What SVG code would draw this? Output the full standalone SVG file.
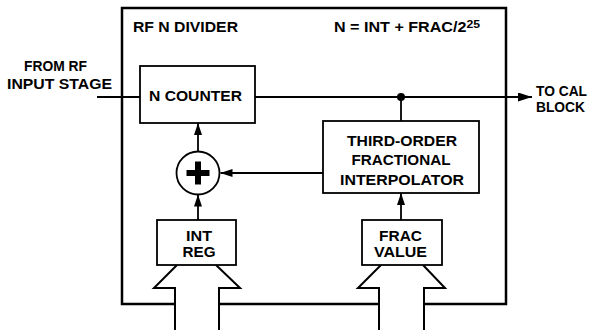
<svg xmlns="http://www.w3.org/2000/svg" width="595" height="330" viewBox="0 0 595 330">
<style>
text{font-family:"Liberation Sans",Arial,Helvetica,sans-serif;font-weight:bold;font-size:14.5px;fill:#000}
.box{fill:#fff;stroke:#000;stroke-width:1.8}
.ln{fill:none;stroke:#000;stroke-width:1.8}
.outer{fill:none;stroke:#000;stroke-width:2.5}
.bus{fill:none;stroke:#000;stroke-width:2;stroke-linejoin:miter}
</style>
<defs>
<marker id="ah" viewBox="0 0 12 8" refX="12" refY="4" markerWidth="12" markerHeight="8" markerUnits="userSpaceOnUse" orient="auto">
<path d="M0,0 L12,4 L0,8 z" fill="#000"/>
</marker>
<marker id="ah2" viewBox="0 0 14 9" refX="14" refY="4.5" markerWidth="14" markerHeight="9" markerUnits="userSpaceOnUse" orient="auto">
<path d="M0,0 L14,4.5 L0,9 z" fill="#000"/>
</marker>
</defs>
<g id="rf-n-divider">
<path class="outer" d="M175,304 H122 V8 H506 V304 H424 M379,304 H219"/>
<text x="133" y="31.5" textLength="105" lengthAdjust="spacingAndGlyphs">RF N DIVIDER</text>
<text x="334" y="31.5" textLength="146" lengthAdjust="spacingAndGlyphs">N = INT + FRAC/2<tspan font-size="11" dy="-3.5">25</tspan></text>
</g>
<g id="labels">
<text x="24" y="70.5" textLength="63" lengthAdjust="spacingAndGlyphs">FROM RF</text>
<text x="7" y="88.5" textLength="105" lengthAdjust="spacingAndGlyphs">INPUT STAGE</text>
<text x="536" y="96" textLength="51" lengthAdjust="spacingAndGlyphs">TO CAL</text>
<text x="536" y="112" textLength="49" lengthAdjust="spacingAndGlyphs">BLOCK</text>
</g>
<g id="connectors">
<path class="ln" d="M97,97 H140"/>
<path class="ln" d="M255,97 H532" marker-end="url(#ah2)"/>
<circle cx="401" cy="97" r="4" fill="#000"/>
<path class="ln" d="M401,97 V121"/>
<path class="ln" d="M323,173 H220.5" marker-end="url(#ah)"/>
<path class="ln" d="M198,151.5 V123" marker-end="url(#ah)"/>
<path class="ln" d="M198,220 V194.5" marker-end="url(#ah)"/>
<path class="ln" d="M401,220 V193" marker-end="url(#ah)"/>
</g>
<g id="n-counter">
<rect class="box" x="140" y="66" width="115" height="57"/>
<text x="149" y="101" textLength="93" lengthAdjust="spacingAndGlyphs">N COUNTER</text>
</g>
<g id="interpolator">
<rect class="box" x="323" y="121" width="156" height="72"/>
<text x="347" y="145.5" textLength="110" lengthAdjust="spacingAndGlyphs">THIRD-ORDER</text>
<text x="351.5" y="165" textLength="99" lengthAdjust="spacingAndGlyphs">FRACTIONAL</text>
<text x="340" y="184.5" textLength="124" lengthAdjust="spacingAndGlyphs">INTERPOLATOR</text>
</g>
<g id="summer">
<circle cx="198" cy="173" r="21.5" fill="#fff" stroke="#000" stroke-width="1.8"/>
<path d="M195,161.5 h6 v8.5 h8.5 v6 h-8.5 v8.5 h-6 v-8.5 h-8.5 v-6 h8.5 z" fill="#000"/>
</g>
<g id="int-reg">
<path class="bus" d="M175,330 V288 H154 L177,265 M216,265 L240,288 H219 V330"/>
<rect class="box" x="157" y="220" width="79" height="45"/>
<text x="186" y="241" textLength="26" lengthAdjust="spacingAndGlyphs">INT</text>
<text x="182.5" y="257" textLength="33" lengthAdjust="spacingAndGlyphs">REG</text>
</g>
<g id="frac-value">
<path class="bus" d="M379,330 V288 H358 L381,265 M423,265 L445,288 H424 V330"/>
<rect class="box" x="362" y="220" width="80" height="45"/>
<text x="379" y="241" textLength="43" lengthAdjust="spacingAndGlyphs">FRAC</text>
<text x="374" y="257" textLength="53" lengthAdjust="spacingAndGlyphs">VALUE</text>
</g>
</svg>
